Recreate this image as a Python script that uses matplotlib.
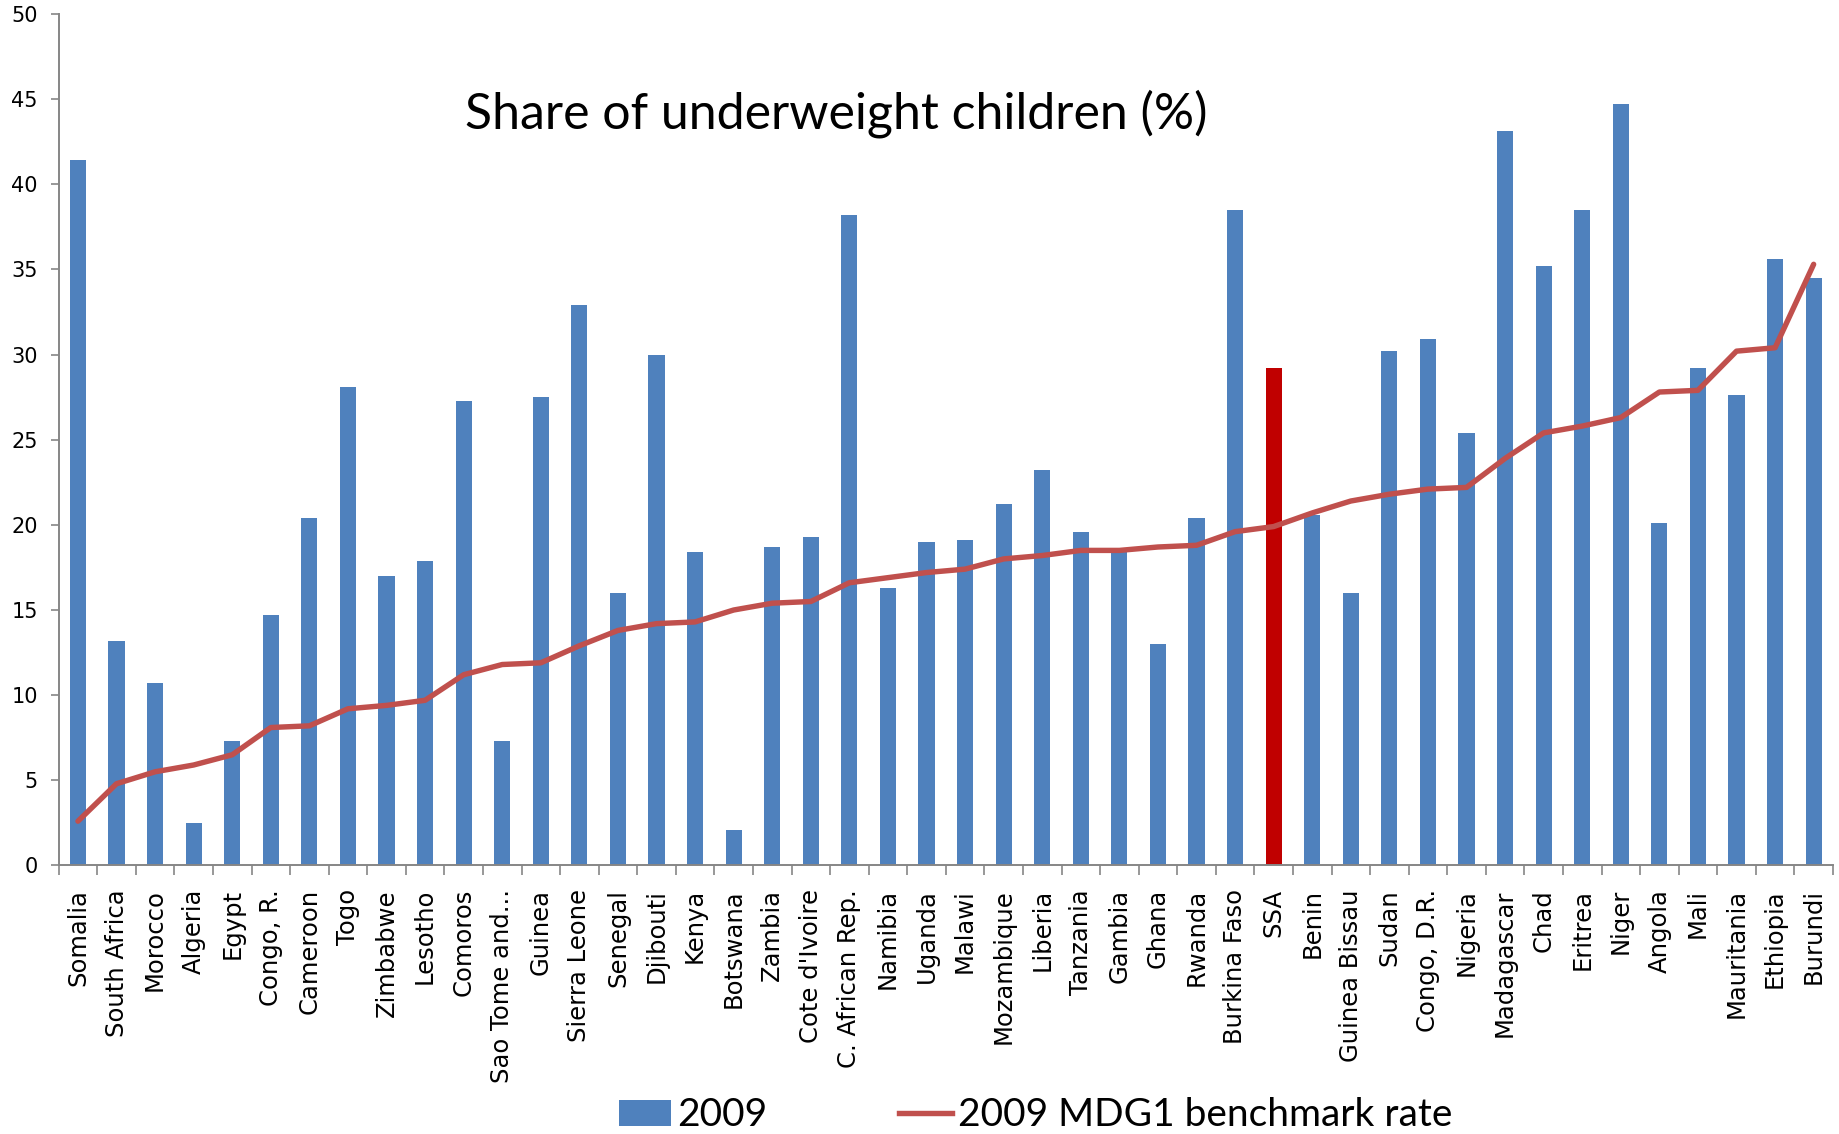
import matplotlib

matplotlib.use("Agg")
import numpy as np
from matplotlib import pyplot as plt
from matplotlib.lines import Line2D
from matplotlib.patches import Patch

countries = [
    "Somalia", "South Africa", "Morocco", "Algeria", "Egypt", "Congo, R.",
    "Cameroon", "Togo", "Zimbabwe", "Lesotho", "Comoros", "Sao Tome and...",
    "Guinea", "Sierra Leone", "Senegal", "Djibouti", "Kenya", "Botswana",
    "Zambia", "Cote d'Ivoire", "C. African Rep.", "Namibia", "Uganda",
    "Malawi", "Mozambique", "Liberia", "Tanzania", "Gambia", "Ghana",
    "Rwanda", "Burkina Faso", "SSA", "Benin", "Guinea Bissau", "Sudan",
    "Congo, D.R.", "Nigeria", "Madagascar", "Chad", "Eritrea", "Niger",
    "Angola", "Mali", "Mauritania", "Ethiopia", "Burundi",
]

# share of underweight children, 2009 (%)
underweight_2009 = [
    41.4, 13.2, 10.7, 2.5, 7.3, 14.7, 20.4, 28.1, 17.0, 17.9, 27.3, 7.3,
    27.5, 32.9, 16.0, 30.0, 18.4, 2.1, 18.7, 19.3, 38.2, 16.3, 19.0, 19.1,
    21.2, 23.2, 19.6, 18.6, 13.0, 20.4, 38.5, 29.2, 20.6, 16.0, 30.2, 30.9,
    25.4, 43.1, 35.2, 38.5, 44.7, 20.1, 29.2, 27.6, 35.6, 34.5,
]

# 2009 MDG1 benchmark rate (%)
benchmark_2009 = [
    2.6, 4.8, 5.5, 5.9, 6.5, 8.1, 8.2, 9.2, 9.4, 9.7, 11.2, 11.8,
    11.9, 12.9, 13.8, 14.2, 14.3, 15.0, 15.4, 15.5, 16.6, 16.9, 17.2, 17.4,
    18.0, 18.2, 18.5, 18.5, 18.7, 18.8, 19.6, 19.9, 20.7, 21.4, 21.8, 22.1,
    22.2, 23.9, 25.4, 25.8, 26.3, 27.8, 27.9, 30.2, 30.4, 35.3,
]

highlight = "SSA"
bar_blue = "#4F81BD"
bar_red = "#C00000"
line_red = "#C0504D"
axis_grey = "#868686"

fig = plt.figure(figsize=(18.39, 11.34), dpi=100)
ax = fig.add_axes([0.0319, 0.2368, 0.9648, 0.7509])

x = np.arange(len(countries))
colors = [bar_red if c == highlight else bar_blue for c in countries]
ax.bar(x, underweight_2009, width=0.42, color=colors, zorder=2)
ax.plot(x, benchmark_2009, color=line_red, lw=3.9, zorder=3,
        solid_joinstyle="round", solid_capstyle="round")

ax.set_xlim(-0.5, len(countries) - 0.5)
ax.set_ylim(0, 50)
ax.set_yticks(range(0, 51, 5))

# category labels on major ticks, tick marks drawn between categories
ax.set_xticks(x)
ax.set_xticklabels(countries, rotation=90, fontsize=17.5, family="DejaVu Sans")
ax.set_xticks(np.arange(-0.5, len(countries)), minor=True)
ax.tick_params(axis="x", which="major", length=0, pad=17)
ax.tick_params(axis="x", which="minor", length=7, width=1.2, color=axis_grey,
               direction="out")
ax.tick_params(axis="y", length=6, width=1.2, color=axis_grey, pad=9,
               labelsize=15)

for side in ("top", "right"):
    ax.spines[side].set_visible(False)
for side in ("left", "bottom"):
    ax.spines[side].set_color(axis_grey)
    ax.spines[side].set_linewidth(1.4)

fig.text(0.455, 0.9, "Share of underweight children (%)", ha="center",
         va="center", fontsize=36, family="Lato")

handles = [
    Patch(facecolor=bar_blue),
    Line2D([], [], color=line_red, lw=3.9),
]
fig.legend(
    handles,
    ["2009", "2009 MDG1 benchmark rate"],
    loc="center",
    bbox_to_anchor=(0.563, 0.0165),
    ncol=2,
    frameon=False,
    prop={"family": "Lato", "size": 28},
    handlelength=1.35,
    handleheight=0.65,
    handletextpad=0.15,
    columnspacing=3.4,
    borderpad=0,
)

fig.savefig("out.png", dpi=100, facecolor="w")
